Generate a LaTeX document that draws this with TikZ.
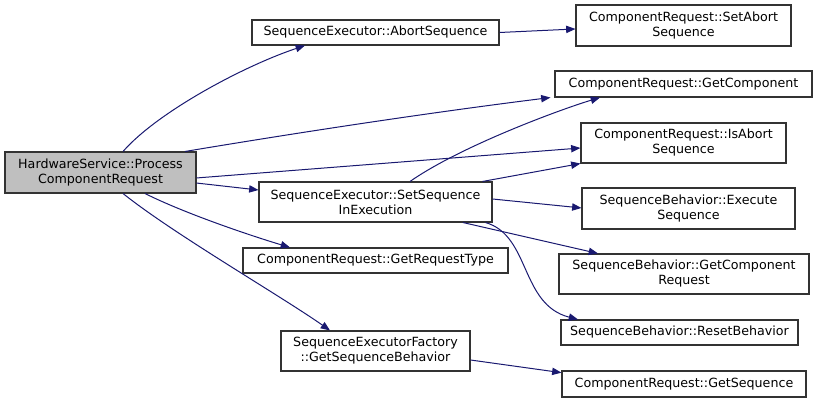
\documentclass[tikz,border=0pt]{standalone}
\usepackage{fontspec}
\setmainfont{DejaVu Sans}
\usetikzlibrary{arrows.meta}
\definecolor{edgec}{HTML}{191970}
\definecolor{boxline}{HTML}{333333}
\definecolor{mainfill}{HTML}{BFBFBF}
\begin{document}
\begin{tikzpicture}[x=0.75pt,y=-0.75pt,
  box/.style={draw=boxline,line width=0.8pt,fill=white,inner sep=0pt,align=center,
    font=\fontsize{9.5}{11.25}\selectfont,text=black},
  edge/.style={draw=edgec,line width=0.75pt,-{Triangle[length=7pt,width=5.5pt]},fill=none}]
\useasboundingbox (0,0) rectangle (817,402);
\node[box,fill=mainfill,minimum width=143.25pt,minimum height=30.75pt] (main) at (100.5,172.5) {HardwareService::Process\\ComponentRequest};
\node[box,minimum width=185.25pt,minimum height=18.75pt] (abort) at (375.5,32.5) {SequenceExecutor::AbortSequence};
\node[box,minimum width=161.25pt,minimum height=30.75pt] (setabort) at (683.5,25.5) {ComponentRequest::SetAbort\\Sequence};
\node[box,minimum width=192.75pt,minimum height=19.5pt] (getcomp) at (683.5,84) {ComponentRequest::GetComponent};
\node[box,minimum width=153.75pt,minimum height=30pt] (isabort) at (683.5,143) {ComponentRequest::IsAbort\\Sequence};
\node[box,minimum width=174.75pt,minimum height=30pt] (setseq) at (375.5,202) {SequenceExecutor::SetSequence\\InExecution};
\node[box,minimum width=198.75pt,minimum height=18.75pt] (reqtype) at (375.5,260.5) {ComponentRequest::GetRequestType};
\node[box,minimum width=159.75pt,minimum height=30.75pt] (exec) at (688.5,208.5) {SequenceBehavior::Execute\\Sequence};
\node[box,minimum width=187.5pt,minimum height=30pt] (compreq) at (684,274) {SequenceBehavior::GetComponent\\Request};
\node[box,minimum width=177.75pt,minimum height=18.75pt] (reset) at (679.5,332.5) {SequenceBehavior::ResetBehavior};
\node[box,minimum width=183pt,minimum height=19.5pt] (getseq) at (684,384) {ComponentRequest::GetSequence};
\node[box,minimum width=141.75pt,minimum height=30pt] (factory) at (375.5,351) {SequenceExecutorFactory\\::GetSequenceBehavior};

\draw[edge] ([xshift=16.9pt]main.north) .. controls +(35,-40) and +(-60,20) .. ([xshift=-52.9pt]abort.south);
\draw[edge] ([xshift=63.4pt]main.north) .. controls +(120,-20) and +(-120,15) .. ([xshift=-3pt]getcomp.south west);
\draw[edge] ([yshift=-4.1pt]main.east) -- ([yshift=-3.75pt]isabort.west);
\draw[edge] ([yshift=-7.9pt]main.east) -- ([yshift=9pt]setseq.west);
\draw[edge] ([xshift=33.4pt]main.south) .. controls +(40,20) and +(-40,-12) .. ([xshift=-64.1pt]reqtype.north);
\draw[edge] ([xshift=16.9pt]main.south) .. controls +(50,40) and +(-50,-35) .. ([xshift=-34.1pt]factory.north);
\draw[edge] (abort.east) -- ([yshift=-2.6pt]setabort.west);
\draw[edge] ([xshift=25.9pt]setseq.north) .. controls +(50,-35) and +(-40,12) .. ([xshift=-62.6pt]getcomp.south);
\draw[edge] ([xshift=-7.5pt]setseq.north east) -- (isabort.south west);
\draw[edge] ([yshift=2.25pt]setseq.east) -- ([yshift=0.4pt]exec.west);
\draw[edge] ([xshift=65.6pt]setseq.south) -- ([xshift=-64.5pt]compreq.north);
\draw[edge] ([xshift=-5.25pt]setseq.south east) .. controls +(45,13) and +(-58,-15) .. ([xshift=-76.1pt]reset.north);
\draw[edge] ([yshift=-6.75pt]factory.east) -- ([yshift=8.5pt]getseq.west);
\end{tikzpicture}
\end{document}
